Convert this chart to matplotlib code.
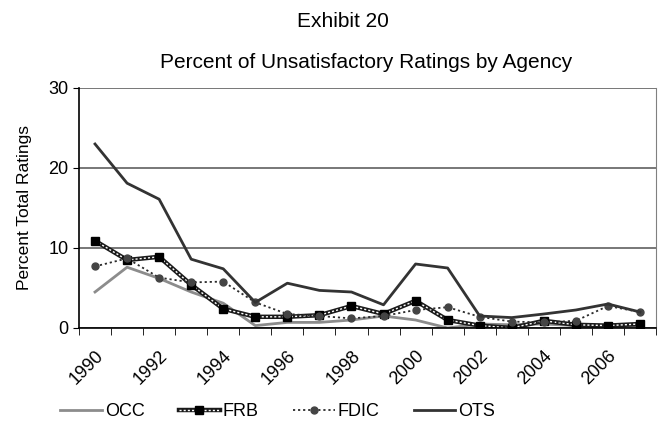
import matplotlib.pyplot as plt
from matplotlib.lines import Line2D

years = list(range(1990, 2008))
occ = [4.5, 7.6, 6.2, 4.5, 3.1, 0.3, 0.7, 0.7, 1.0, 1.5, 1.0, 0.0, 0.5, 0.4, 0.5, 0.3, 0.3, 0.1]
frb = [10.9, 8.5, 8.9, 5.4, 2.4, 1.4, 1.4, 1.6, 2.75, 1.75, 3.4, 1.0, 0.3, 0.0, 0.9, 0.4, 0.3, 0.5]
fdic = [7.7, 8.7, 6.3, 5.7, 5.8, 3.2, 1.75, 1.5, 1.2, 1.5, 2.25, 2.6, 1.4, 0.8, 0.7, 0.9, 2.75, 2.0]
ots = [23.0, 18.1, 16.1, 8.6, 7.4, 3.2, 5.6, 4.7, 4.5, 2.9, 8.0, 7.5, 1.5, 1.3, 1.75, 2.25, 3.0, 2.0]

plt.rcParams['font.family'] = ['Liberation Sans', 'DejaVu Sans']

fig = plt.figure(figsize=(6.61, 4.26), dpi=100)
ax = fig.add_axes([79 / 661, 1 - 328 / 426, 577 / 661, 240 / 426])

x = list(range(len(years)))
ax.plot(x, occ, color='#8c8c8c', lw=2)
# FRB: thick dark line with a light dash pattern running through it
ax.plot(x, frb, color='#1a1a1a', lw=3.2)
ax.plot(x, frb, color='white', lw=1.0, ls=(0, (1.5, 1.5)))
ax.plot(x, frb, ls='none', marker='s', ms=5.5, color='black')
ax.plot(x, fdic, color='#2a2a2a', lw=1.3, ls=(0, (1.2, 1.6)), marker='o', ms=5,
        markerfacecolor='#444444', markeredgecolor='#444444')
ax.plot(x, ots, color='#333333', lw=2)

ax.set_xlim(-0.5, len(years) - 0.5)
ax.set_ylim(0, 30)
ax.set_yticks([0, 10, 20, 30])
ax.tick_params(axis='y', labelsize=13, length=4)
ax.grid(axis='y', color='#606060', lw=1.2)
ax.set_axisbelow(True)

ax.set_xticks([i - 0.5 for i in range(len(years) + 1)], minor=True)
ax.set_xticks(x[::2])
ax.set_xticklabels([str(y) for y in years[::2]], rotation=45, fontsize=13, ha='right',
                   rotation_mode='anchor')
ax.tick_params(axis='x', which='major', length=0, pad=14)
ax.tick_params(axis='x', which='minor', length=5)

ax.spines['top'].set_visible(False)
ax.spines['right'].set_color('#808080')
ax.spines['left'].set_linewidth(1.2)
ax.spines['bottom'].set_linewidth(1.2)

ax.set_ylabel('Percent Total Ratings', fontsize=12.5, labelpad=12)

fig.text(343 / 661, 0.937, 'Exhibit 20', ha='center', va='baseline', fontsize=15)
fig.text(366 / 661, 0.840, 'Percent of Unsatisfactory Ratings by Agency', ha='center',
         va='baseline', fontsize=15)

h_occ = Line2D([], [], color='#8c8c8c', lw=2)
h_frb = (Line2D([], [], color='#1a1a1a', lw=3.2),
         Line2D([], [], color='white', lw=1.0, ls=(0, (1.5, 1.5))),
         Line2D([], [], ls='none', marker='s', ms=5.5, color='black'))
h_fdic = Line2D([], [], color='#2a2a2a', lw=1.3, ls=(0, (1.2, 1.6)), marker='o', ms=5,
                markerfacecolor='#444444', markeredgecolor='#444444')
h_ots = Line2D([], [], color='#333333', lw=2)
fig.legend([h_occ, h_frb, h_fdic, h_ots], ['OCC', 'FRB', 'FDIC', 'OTS'],
           loc='center', bbox_to_anchor=(0.42, 0.033), ncol=4, frameon=False, fontsize=13,
           handlelength=2.3, columnspacing=1.9, handletextpad=0.15)

fig.savefig('out.png', dpi=100)
